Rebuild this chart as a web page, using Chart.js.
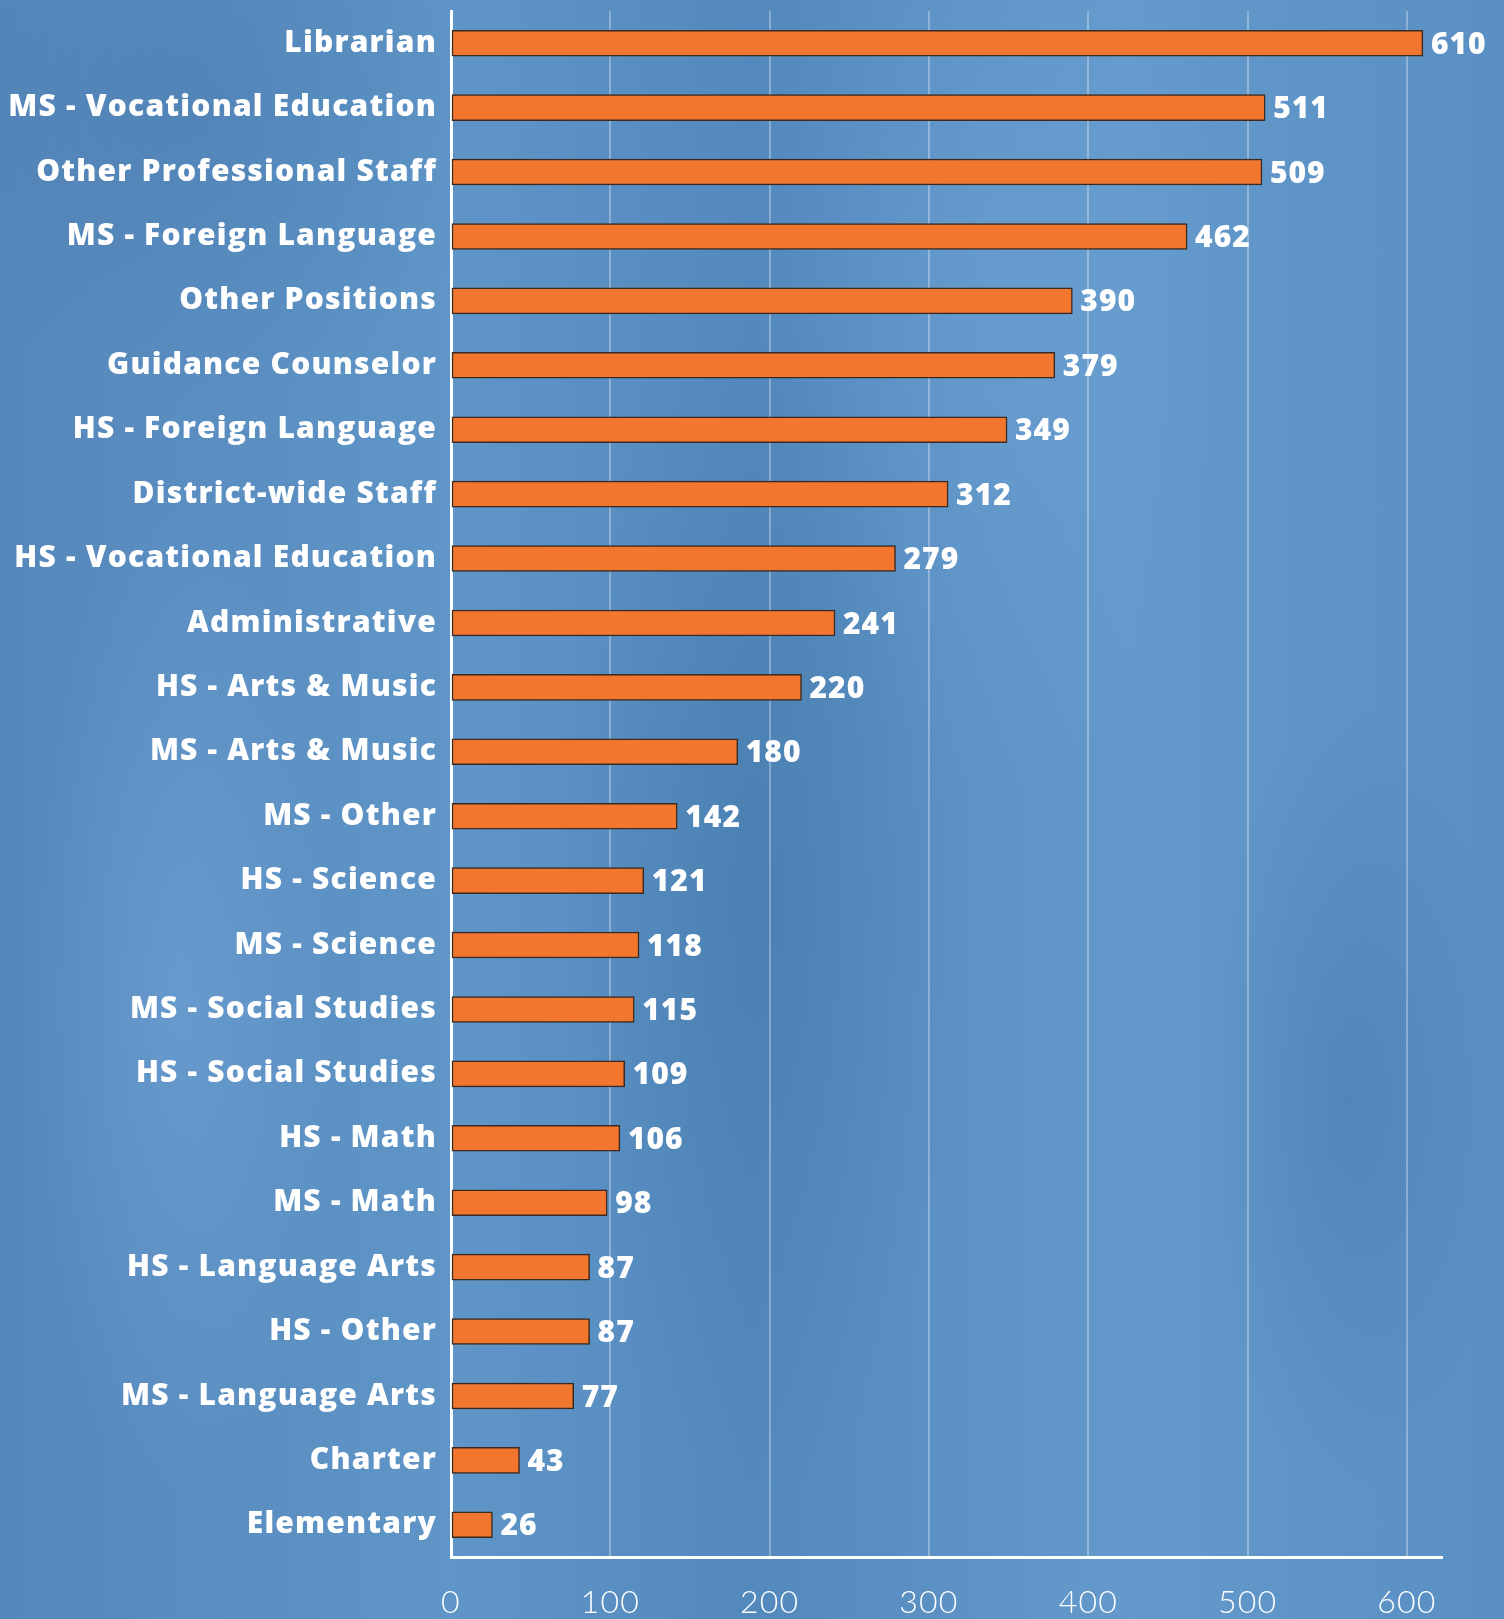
<!DOCTYPE html>
<html>
<head>
<meta charset="utf-8">
<script src="https://cdn.jsdelivr.net/npm/chart.js@4"></script>
<style>
  html, body { margin: 0; padding: 0; }
  body {
    width: 1504px; height: 1619px; overflow: hidden;
    background:
      radial-gradient(ellipse 160px 500px at 180px 1000px, rgba(120,170,220,0.45), rgba(120,170,220,0) 100%),
      radial-gradient(ellipse 200px 600px at 760px 900px, rgba(60,110,160,0.35), rgba(60,110,160,0) 100%),
      radial-gradient(ellipse 220px 500px at 1000px 300px, rgba(120,170,220,0.35), rgba(120,170,220,0) 100%),
      radial-gradient(ellipse 150px 400px at 1350px 1100px, rgba(60,110,160,0.35), rgba(60,110,160,0) 100%),
      radial-gradient(ellipse 300px 300px at 200px 100px, rgba(70,120,170,0.4), rgba(70,120,170,0) 100%),
      linear-gradient(90deg, #5687bb 0%, #5f95c7 30%, #5389bc 50%, #6399cb 75%, #5a8fc3 100%);
  }
  #wrap { position: absolute; left: 0; top: 0; width: 1504px; height: 1619px; }
</style>
</head>
<body>
<div id="wrap"><canvas id="grafico" width="1504" height="1619"></canvas></div>
<script>
const categorias = [
  "Librarian", "MS - Vocational Education", "Other Professional Staff",
  "MS - Foreign Language", "Other Positions", "Guidance Counselor",
  "HS - Foreign Language", "District-wide Staff", "HS - Vocational Education",
  "Administrative", "HS - Arts & Music", "MS - Arts & Music", "MS - Other",
  "HS - Science", "MS - Science", "MS - Social Studies", "HS - Social Studies",
  "HS - Math", "MS - Math", "HS - Language Arts", "HS - Other",
  "MS - Language Arts", "Charter", "Elementary"
];
const valores = [610, 511, 509, 462, 390, 379, 349, 312, 279, 241, 220, 180, 142,
  121, 118, 115, 109, 106, 98, 87, 87, 77, 43, 26];
const ticksX = [0, 100, 200, 300, 400, 500, 600];

const fonteNegrito = "'Open Sans', sans-serif";

// espacamento entre letras para imitar a fonte larga do original
const espacamento = {
  id: "espacamento",
  beforeDraw(chart) {
    chart.ctx.letterSpacing = "1.2px";
  },
};

// desenha o valor ao lado de cada barra
const rotulosValor = {
  id: "rotulosValor",
  afterDatasetsDraw(chart) {
    const c = chart.ctx;
    const meta = chart.getDatasetMeta(0);
    c.save();
    c.letterSpacing = "1px";
    c.fillStyle = "#ffffff";
    c.font = "800 30px " + fonteNegrito;
    c.textAlign = "left";
    c.textBaseline = "middle";
    meta.data.forEach((bar, i) => {
      c.fillText(String(valores[i]), bar.x + 8, bar.y + 2);
    });
    c.restore();
  },
};

const ctx = document.getElementById("grafico");

new Chart(ctx, {
  type: "bar",
  data: {
    labels: categorias,
    datasets: [
      {
        data: valores,
        backgroundColor: "#f2762e",
        borderColor: "#3a2a20",
        borderWidth: 1.5,
        borderSkipped: false,
        barThickness: 26,
      },
    ],
  },
  options: {
    indexAxis: "y",
    responsive: false,
    animation: false,
    layout: { padding: { top: 11, right: 62, left: 0, bottom: 0 } },
    plugins: {
      legend: { display: false },
      tooltip: { enabled: false },
    },
    scales: {
      x: {
        min: 0,
        max: 622,
        afterBuildTicks: (scale) => {
          scale.ticks = ticksX.map((v) => ({ value: v }));
        },
        afterFit: (scale) => {
          scale.height = 62;
        },
        grid: {
          color: "rgba(255,255,255,0.3)",
          lineWidth: 2,
          drawTicks: false,
        },
        border: { color: "#ffffff", width: 3 },
        ticks: {
          color: "#ffffff",
          font: { family: "Lato, sans-serif", size: 32, weight: "300" },
          padding: 26,
        },
      },
      y: {
        afterFit: (scale) => {
          scale.width = 451;
          scale.paddingTop = 0;
          scale.paddingBottom = 0;
        },
        grid: { display: false, drawTicks: false },
        border: { color: "#ffffff", width: 3 },
        ticks: {
          color: "#ffffff",
          font: { family: fonteNegrito, size: 30, weight: "800" },
          padding: 14,
        },
      },
    },
  },
  plugins: [espacamento, rotulosValor],
});
</script>
</body>
</html>
